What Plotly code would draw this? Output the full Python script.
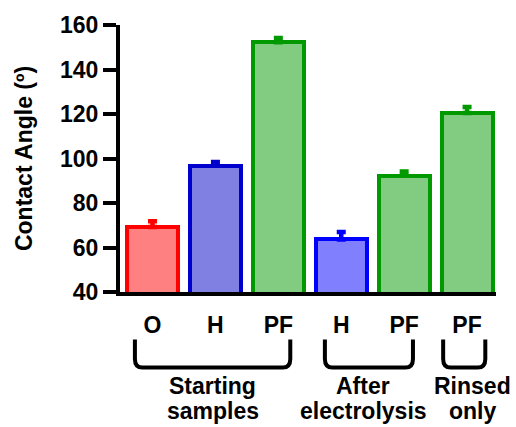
import plotly.graph_objects as go

# ---- data ----
tick_labels = ["O", "H", "PF", "H", "PF", "PF"]
angles = [69.2, 96.8, 152.2, 63.6, 92.2, 120.4]
errors = [2.6, 1.6, 2.0, 3.4, 2.0, 2.8]
line_colors = ["#FF0000", "#0000CC", "#009900", "#0000FF", "#009900", "#009900"]
fill_colors = ["#FF8080", "#8080E2", "#82CC82", "#8080FF", "#82CC82", "#82CC82"]
group_names = ["Starting<br>samples", "After<br>electrolysis", "Rinsed<br>only"]
group_spans = [(-0.28, 2.19), (2.74, 4.14), (4.62, 5.29)]
group_label_x = [0.96, 3.35, 5.09]

FONT = "Liberation Sans, Arial, sans-serif"
positions = list(range(len(angles)))

fig = go.Figure()
for i, (v, e) in enumerate(zip(angles, errors)):
    fig.add_trace(go.Bar(
        x=[positions[i]], y=[v], width=0.81,
        marker=dict(color=fill_colors[i], line=dict(color=line_colors[i], width=4)),
        error_y=dict(type="data", array=[e], arrayminus=[0], symmetric=False,
                     color=line_colors[i], thickness=4.5, width=4.5),
        showlegend=False,
    ))

# brackets under groups
for (x0, x1) in group_spans:
    ytop, ybot = -0.178, -0.283
    rx, ry = 0.12, 0.032
    path = (f"M {x0} {ytop} L {x0} {ybot + ry} Q {x0} {ybot} {x0 + rx} {ybot} "
            f"L {x1 - rx} {ybot} Q {x1} {ybot} {x1} {ybot + ry} L {x1} {ytop}")
    fig.add_shape(type="path", path=path, xref="x", yref="paper",
                  line=dict(color="black", width=4))

for name, gx in zip(group_names, group_label_x):
    for line_text, yy in zip(name.split("<br>"), [-0.353, -0.446]):
        fig.add_annotation(x=gx, y=yy, xref="x", yref="paper", text=f"<b>{line_text}</b>",
                           showarrow=False, yanchor="middle", xanchor="center",
                           font=dict(family=FONT, size=23, color="black"))

fig.update_layout(
    width=516, height=427,
    margin=dict(l=120, r=20, t=23, b=135),
    plot_bgcolor="white", paper_bgcolor="white",
    bargap=0,
    font=dict(family=FONT, color="black"),
)
fig.update_xaxes(
    range=[-0.517, 5.46], tickvals=positions, ticktext=[f"<b>{t}</b>" for t in tick_labels],
    showline=True, linecolor="black", linewidth=4, showgrid=False, zeroline=False,
    ticks="outside", ticklen=9, tickcolor="rgba(0,0,0,0)",
    tickfont=dict(family=FONT, size=23, color="black"),
)
fig.update_yaxes(
    range=[40, 160], tickvals=[40, 60, 80, 100, 120, 140, 160],
    ticktext=[f"<b>{v}</b>" for v in [40, 60, 80, 100, 120, 140, 160]],
    showline=True, linecolor="black", linewidth=4, showgrid=False, zeroline=False,
    ticks="outside", ticklen=13, tickwidth=4, tickcolor="black",
    tickfont=dict(family=FONT, size=23, color="black"),
    title=dict(text="<b>Contact Angle (º)</b>", font=dict(family=FONT, size=23, color="black"),
               standoff=22),
)

fig.write_html("out.html")
